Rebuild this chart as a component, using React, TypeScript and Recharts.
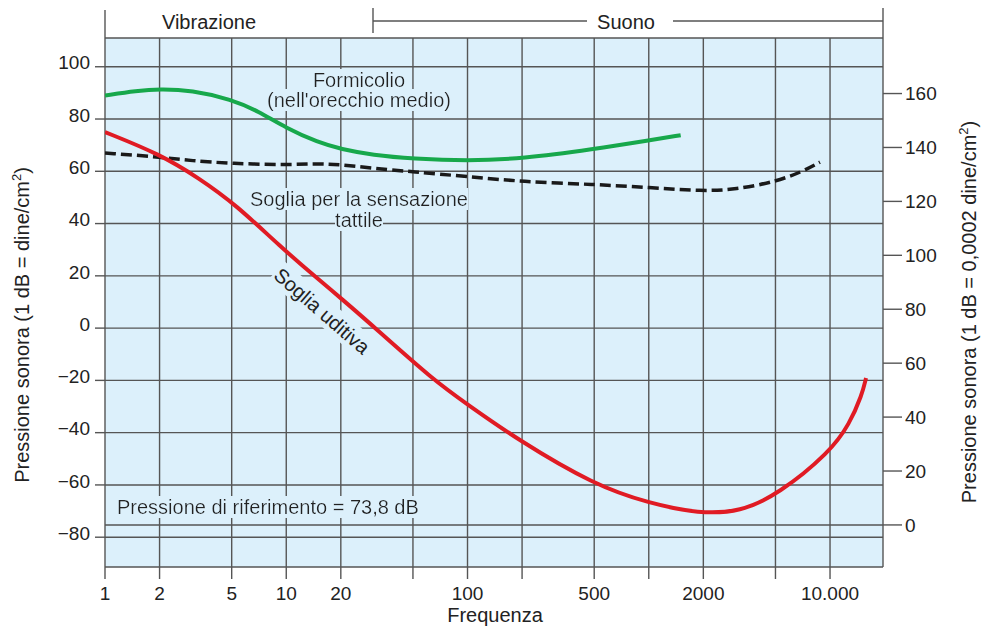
import React from 'react';
import {
  ComposedChart, Line, XAxis, YAxis, CartesianGrid, ReferenceLine,
} from 'recharts';

// frequency (Hz) / level (dB, 1 dB = dine/cm2)
const formicolioFreq = [1, 1.5, 2, 3, 5, 7, 10, 15, 20, 30, 50, 100, 200, 500, 1000, 1500];
const formicolioDb = [89, 90.8, 91.5, 91, 87.5, 83, 76.5, 71, 68.5, 66.2, 64.8, 64, 64.8, 68.5, 71.8, 73.8];

const tattileFreq = [1, 2, 3, 5, 10, 15, 20, 30, 50, 100, 200, 500, 1000, 2000, 3000, 5000, 7000, 8800];
const tattileDb = [67, 65.5, 64, 63, 62.4, 63, 62.5, 61.2, 59.8, 58, 56, 55, 53.8, 52.4, 53, 56, 59.8, 63.5];

const uditivaFreq = [1, 2, 3.3, 5.3, 9.2, 15, 20, 31.5, 65, 100, 190, 500, 1000, 1900, 3200, 5200, 10000, 12800, 15000, 15800];
const uditivaDb = [75, 66.6, 57.4, 47.1, 31.4, 18.7, 11.5, -0.4, -19.9, -29.2, -42.8, -60, -67, -71, -70.3, -63.5, -47.4, -36.7, -25.6, -19.1];

const freqTicks = [1, 2, 5, 10, 20, 50, 100, 200, 500, 1000, 2000, 5000, 10000];
const freqLabels: Record<number, string> = {
  1: '1', 2: '2', 5: '5', 10: '10', 20: '20', 100: '100', 500: '500', 2000: '2000', 10000: '10.000',
};
const leftTicks = [-80, -60, -40, -20, 0, 20, 40, 60, 80, 100];
const rightTicks = [0, 20, 40, 60, 80, 100, 120, 140, 160];
const rightMinorTicks = [-10, 10, 30, 50, 70, 90, 110, 130, 150, 170];

const toRows = (f: number[], v: number[]) => f.map((x, i) => ({ f: x, v: v[i] }));

const BG = '#dcf0fb';
const GRID = '#555';
const FONT = '"Liberation Sans", Arial, sans-serif';
const TXT = '#222';

export default function App() {
  const tickStyle = { fontSize: 19, fill: TXT, fontFamily: FONT };
  return (
    <div style={{ position: 'absolute', left: 0, top: 0, background: '#fff' }}>
      <ComposedChart
        width={981}
        height={629}
        margin={{ top: 38, right: 20, left: 25, bottom: 22 }}
        style={{ fontFamily: FONT }}
      >
        <defs>
          <filter id="txtbg" x="0" y="0" width="1" height="1">
            <feFlood floodColor={BG} />
            <feComposite in="SourceGraphic" operator="over" />
          </filter>
        </defs>
        <CartesianGrid
          xAxisId="x"
          yAxisId="left"
          fill={BG}
          fillOpacity={1}
          stroke={GRID}
          strokeWidth={1.4}
        />
        <XAxis
          xAxisId="x"
          dataKey="f"
          type="number"
          scale="log"
          domain={[1, 19600]}
          allowDataOverflow
          ticks={freqTicks}
          tickFormatter={(t: number) => freqLabels[t] ?? ''}
          tick={tickStyle}
          tickSize={12}
          tickMargin={8}
          tickLine={{ stroke: GRID, strokeWidth: 1.4 }}
          axisLine={false}
          height={40}
        />
        <YAxis
          yAxisId="left"
          type="number"
          domain={[-91.4, 111]}
          allowDataOverflow
          ticks={leftTicks}
          tickFormatter={(t: number) => (t < 0 ? '\u2212' + Math.abs(t) : String(t))}
          tick={{ ...tickStyle, dy: -4 }}
          tickSize={10}
          tickMargin={5}
          tickLine={{ stroke: GRID, strokeWidth: 1.4 }}
          axisLine={false}
          width={80}
        />
        <YAxis
          yAxisId="right"
          orientation="right"
          type="number"
          domain={[-15.6, 180.6]}
          allowDataOverflow
          ticks={rightTicks}
          tick={tickStyle}
          tickSize={19}
          tickMargin={3}
          tickLine={{ stroke: GRID, strokeWidth: 1.4 }}
          axisLine={false}
          width={78}
        />
        <YAxis
          yAxisId="rightMinor"
          orientation="right"
          type="number"
          domain={[-15.6, 180.6]}
          allowDataOverflow
          ticks={rightMinorTicks}
          tick={false}
          tickSize={10}
          tickLine={{ stroke: GRID, strokeWidth: 1.4 }}
          axisLine={false}
          width={0}
        />
        <YAxis
          yAxisId="leftExt"
          orientation="right"
          type="number"
          domain={[-91.4, 111]}
          allowDataOverflow
          ticks={leftTicks}
          tick={false}
          tickSize={10}
          tickLine={{ stroke: GRID, strokeWidth: 1.4 }}
          axisLine={false}
          width={0}
        />
        <ReferenceLine xAxisId="x" yAxisId="right" y={0} stroke={GRID} strokeWidth={1.4} />

        <g fontFamily={FONT} fill={TXT}>
          {/* top brackets */}
          <line x1={105} y1={10} x2={105} y2={38} stroke={GRID} strokeWidth={1.4} />
          <text x={209} y={29} fontSize={20} textAnchor="middle" fill={TXT}>Vibrazione</text>
          <line x1={373} y1={8} x2={373} y2={33} stroke={GRID} strokeWidth={1.4} />
          <line x1={373} y1={21} x2={587} y2={21} stroke={GRID} strokeWidth={1.4} />
          <line x1={673} y1={21} x2={883} y2={21} stroke={GRID} strokeWidth={1.4} />
          <line x1={883} y1={8} x2={883} y2={38} stroke={GRID} strokeWidth={1.4} />
          <text x={626} y={29} fontSize={20} textAnchor="middle" fill={TXT}>Suono</text>

          {/* annotations */}
          <text x={359} y={87} fontSize={20} textAnchor="middle" fill={TXT} filter="url(#txtbg)">Formicolio</text>
          <text x={359} y={107} fontSize={20} textAnchor="middle" fill={TXT} filter="url(#txtbg)">(nell'orecchio medio)</text>
          <text x={359} y={206} fontSize={20} textAnchor="middle" fill={TXT} filter="url(#txtbg)">Soglia per la sensazione</text>
          <text x={359} y={227} fontSize={20} textAnchor="middle" fill={TXT} filter="url(#txtbg)">tattile</text>
          <g transform="rotate(41 322 311)">
            <rect x={261} y={298} width={122} height={25} fill={BG} />
            <text x={322} y={318} fontSize={20} textAnchor="middle" fill={TXT}>Soglia uditiva</text>
          </g>
          <text x={117} y={514} fontSize={20} fill={TXT} filter="url(#txtbg)">Pressione di riferimento = 73,8 dB</text>

          {/* axis titles */}
          <text x={495} y={622} fontSize={20} textAnchor="middle" fill={TXT}>Frequenza</text>
          <text x={29} y={325} fontSize={20} textAnchor="middle" fill={TXT} transform="rotate(-90 29 325)">
            Pressione sonora (1 dB = dine/cm<tspan dy={-8} fontSize={13}>2</tspan><tspan dy={8}>)</tspan>
          </text>
          <text x={976} y={312} fontSize={20} textAnchor="middle" fill={TXT} transform="rotate(-90 976 312)">
            Pressione sonora (1 dB = 0,0002 dine/cm<tspan dy={-8} fontSize={13}>2</tspan><tspan dy={8}>)</tspan>
          </text>
        </g>

        <Line
          xAxisId="x"
          yAxisId="left"
          data={toRows(formicolioFreq, formicolioDb)}
          dataKey="v"
          type="basis"
          stroke="#17a84b"
          strokeWidth={4}
          dot={false}
          isAnimationActive={false}
        />
        <Line
          xAxisId="x"
          yAxisId="left"
          data={toRows(tattileFreq, tattileDb)}
          dataKey="v"
          type="basis"
          stroke="#1a1a1a"
          strokeWidth={3.5}
          strokeDasharray="11 5"
          dot={false}
          isAnimationActive={false}
        />
        <Line
          xAxisId="x"
          yAxisId="left"
          data={toRows(uditivaFreq, uditivaDb)}
          dataKey="v"
          type="basis"
          stroke="#e01b24"
          strokeWidth={4}
          dot={false}
          isAnimationActive={false}
        />
      </ComposedChart>
    </div>
  );
}
